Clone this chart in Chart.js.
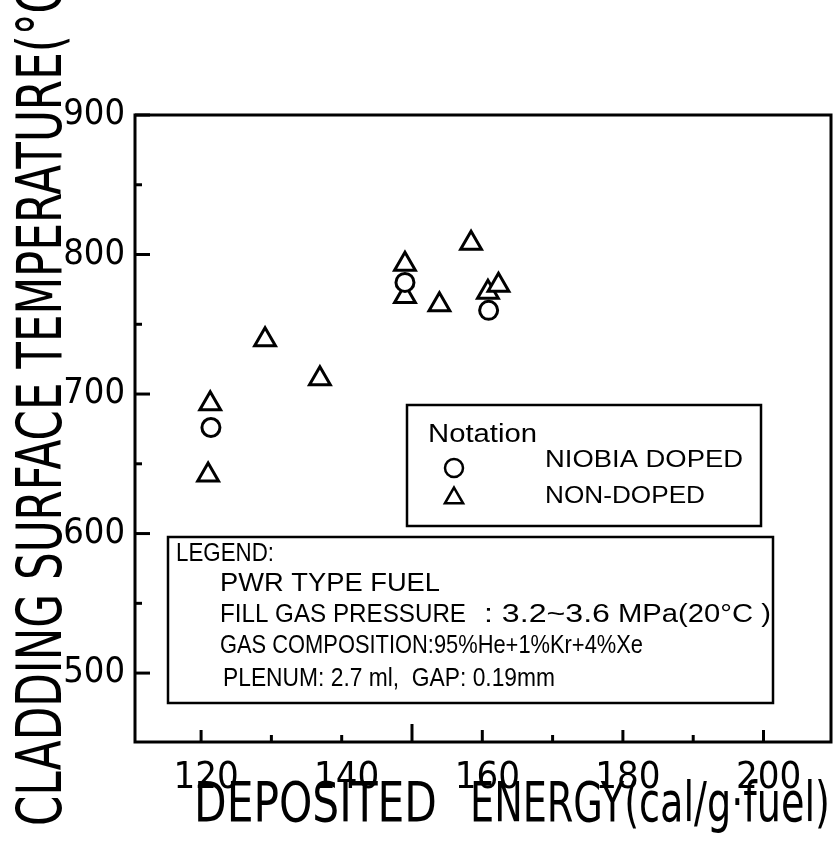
<!DOCTYPE html>
<html>
<head>
<meta charset="utf-8">
<script src="https://cdn.jsdelivr.net/npm/chart.js@4.4.1/dist/chart.umd.min.js"></script>
<style>
  html, body { margin: 0; padding: 0; background: #fff; overflow: hidden; }
  #wrap { width: 836px; height: 841px; }
  #c { display: block; width: 836px; height: 841px; }
</style>
</head>
<body>
<div id="wrap"><canvas id="c" width="836" height="841"></canvas></div>
<script>
// Deposited energy (cal/g·fuel) and cladding surface temperature (°C)
const niobiaEnergy = [121.4, 149.0, 160.9];
const niobiaTemp   = [676, 780, 760];
const nonDopedEnergy = [121.3, 121.0, 129.1, 136.9, 149.0, 149.0, 153.9, 158.4, 160.8, 162.3];
const nonDopedTemp   = [693, 642, 739, 711, 793, 770, 764, 808, 773, 778];

const xTickValues = [120, 130, 140, 150, 160, 170, 180, 190, 200];
const xTickLabels = ['120', '', '140', '', '160', '', '180', '', '200'];
const yTickValues = [500, 550, 600, 650, 700, 750, 800, 850, 900];
const yTickLabels = ['500', '', '600', '', '700', '', '800', '', '900'];

const seriesNames = ['NIOBIA DOPED', 'NON-DOPED'];
const legendTitle = 'LEGEND:';
const legendLines = [
  ['PWR TYPE FUEL'],
  ['FILL GAS PRESSURE', ': 3.2~3.6', 'MPa(20°C )'],
  ['GAS COMPOSITION:95%He+1%Kr+4%Xe'],
  ['PLENUM: 2.7 ml,  GAP: 0.19mm']
];

const FONT = '"Liberation Sans Narrow", "DejaVu Sans Condensed", sans-serif';
const BOXFONT = '"Liberation Sans", Arial, sans-serif';

function toPoints(xs, ys) { return xs.map((x, i) => ({ x: x, y: ys[i] })); }

// draw text scaled horizontally so it spans a given width
function fitText(ctx, text, x, y, width, font) {
  ctx.save();
  ctx.font = font;
  const w = ctx.measureText(text).width;
  ctx.translate(x, y);
  ctx.scale(width / w, 1);
  ctx.textAlign = 'left';
  ctx.fillText(text, 0, 0);
  ctx.restore();
}

const frame = {
  id: 'frame',
  afterDatasetsDraw(chart) {
    const { ctx, chartArea: a, scales } = chart;
    ctx.save();
    ctx.strokeStyle = '#000';
    ctx.lineWidth = 3;
    ctx.strokeRect(a.left, a.top, a.right - a.left, a.bottom - a.top);

    // inward tick marks
    xTickValues.forEach(v => {
      const px = scales.x.getPixelForValue(v);
      const len = v === 150 ? 18 : (v % 20 === 0 && v !== 140 ? 12 : 7);
      ctx.beginPath(); ctx.moveTo(px, a.bottom); ctx.lineTo(px, a.bottom - len); ctx.stroke();
    });
    yTickValues.forEach(v => {
      const py = scales.y.getPixelForValue(v);
      const len = v % 100 === 0 ? 15 : 7;
      ctx.beginPath(); ctx.moveTo(a.left, py); ctx.lineTo(a.left + len, py); ctx.stroke();
    });

    // notation box (series key)
    ctx.lineWidth = 2.5;
    ctx.strokeRect(407, 405, 354, 121);
    ctx.fillStyle = '#000';
    ctx.textBaseline = 'alphabetic';
    fitText(ctx, 'Notation', 428, 442, 109, '26px ' + BOXFONT);
    const keyY = [468, 498];
    const keyR = [9, 10.5];
    const textY = [467, 503];
    const textW = [198, 160];
    chart.data.datasets.forEach((ds, i) => {
      ctx.lineWidth = 2.5;
      ctx.strokeStyle = '#000';
      ctx.fillStyle = '#fff';
      Chart.helpers.drawPoint(ctx, { pointStyle: ds.pointStyle, radius: keyR[i], rotation: 0, borderWidth: 2.5 }, 454, keyY[i]);
      ctx.fillStyle = '#000';
      fitText(ctx, seriesNames[i], 545, textY[i], textW[i], '24px ' + BOXFONT);
    });

    // legend box (test conditions)
    ctx.lineWidth = 2.5;
    ctx.strokeRect(168, 537, 605, 166);
    fitText(ctx, legendTitle, 176, 561, 98, '25px ' + BOXFONT);
    const segX = [[220], [220, 484, 618], [220], [223]];
    const segW = [[220], [246, 126, 153], [423], [332]];
    const lineY = [591, 622, 653, 686];
    legendLines.forEach((segs, i) => segs.forEach((t, j) =>
      fitText(ctx, t, segX[i][j], lineY[i], segW[i][j], '26px ' + BOXFONT)));

    // axis titles
    fitText(ctx, 'DEPOSITED', 194, 821, 243, '56px ' + FONT);
    fitText(ctx, 'ENERGY(cal/g·fuel)', 470, 821, 360, '56px ' + FONT);
    ctx.save();
    ctx.translate(61, 826);
    ctx.rotate(-Math.PI / 2);
    fitText(ctx, 'CLADDING SURFACE TEMPERATURE(°C)', 0, 0, 860, '62px ' + FONT);
    ctx.restore();
    ctx.restore();
  }
};

new Chart(document.getElementById('c'), {
  type: 'scatter',
  data: {
    datasets: [
      {
        label: seriesNames[0],
        data: toPoints(niobiaEnergy, niobiaTemp),
        pointStyle: 'circle',
        pointRadius: 9,
        pointBorderWidth: 3,
        borderColor: '#000',
        backgroundColor: '#fff'
      },
      {
        label: seriesNames[1],
        data: toPoints(nonDopedEnergy, nonDopedTemp),
        pointStyle: 'triangle',
        pointRadius: 12,
        pointBorderWidth: 3,
        borderColor: '#000',
        backgroundColor: '#fff'
      }
    ]
  },
  options: {
    responsive: false,
    animation: false,
    layout: { autoPadding: false, padding: { left: 0, top: 115, right: 5, bottom: 0 } },
    plugins: { legend: { display: false }, tooltip: { enabled: false } },
    scales: {
      x: {
        type: 'linear',
        min: 110.6,
        max: 209.6,
        afterFit(s) { s.height = 99; s.paddingRight = 0; s.paddingLeft = 0; },
        afterBuildTicks(s) { s.ticks = xTickValues.map(v => ({ value: v })); },
        grid: { display: false, drawTicks: false },
        border: { display: false },
        ticks: {
          autoSkip: false,
          maxRotation: 0,
          padding: 13,
          labelOffset: 5,
          color: '#000',
          font: { family: FONT, size: 38 },
          callback: (v, i) => xTickLabels[i]
        }
      },
      y: {
        type: 'linear',
        min: 450.6,
        max: 900,
        afterFit(s) { s.width = 135; s.paddingTop = 0; s.paddingBottom = 0; },
        afterBuildTicks(s) { s.ticks = yTickValues.map(v => ({ value: v })); },
        grid: { display: false, drawTicks: false },
        border: { display: false },
        ticks: {
          autoSkip: false,
          padding: 10,
          color: '#000',
          font: { family: FONT, size: 36 },
          callback: (v, i) => yTickLabels[i]
        }
      }
    }
  },
  plugins: [frame]
});
</script>
</body>
</html>
